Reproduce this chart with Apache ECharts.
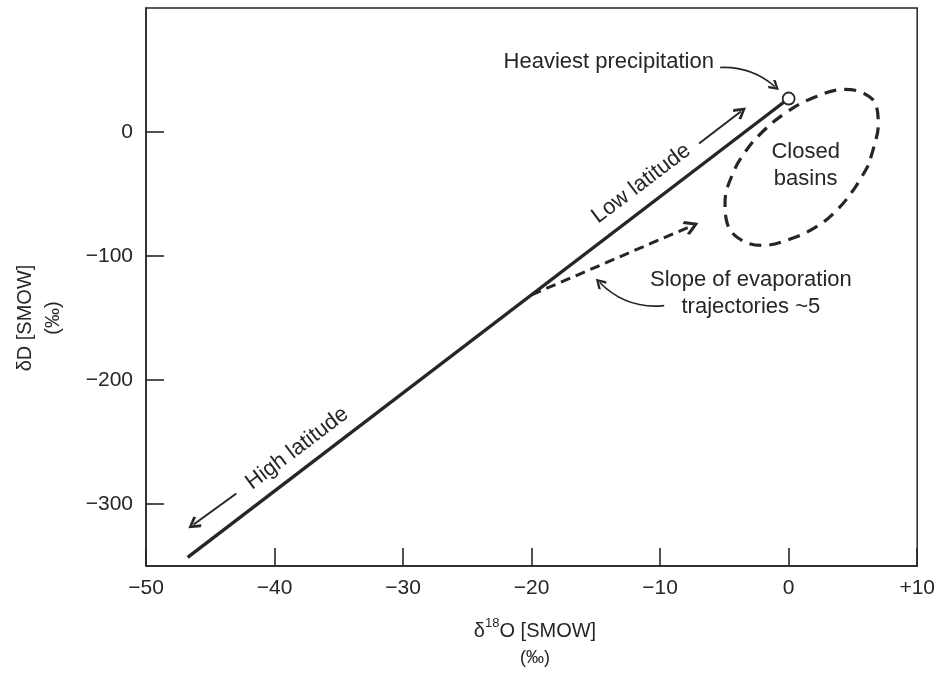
<!DOCTYPE html>
<html>
<head>
<meta charset="utf-8">
<script src="https://cdn.jsdelivr.net/npm/echarts@6/dist/echarts.min.js"></script>
<style>
html,body{margin:0;padding:0;background:#fff;}
#chart{width:938px;height:681px;}
</style>
</head>
<body>
<div id="chart"></div>
<script>
// ---- data ----
const xTicks = [-50, -40, -30, -20, -10, 0, 10];
const yTicks = [0, -100, -200, -300];

// meteoric water line (δ18O, δD)
const mwlO = [-46.76, 0];
const mwlD = [-343, 27];

// heaviest precipitation point
const heavyO = [0];
const heavyD = [27];

// closed basins envelope (outline points)
const basinO = [6.19, 5.11, 3.87, 2.32, 0.23, -2.09, -3.87, -4.80, -4.95, -4.41, -3.41, -2.09, -0.31, 1.78, 4.34, 5.88, 6.81, 6.97, 6.66, 6.19];
const basinD = [-27.0, -45.6, -61.7, -75.4, -85.9, -91.5, -85.9, -73.0, -56.9, -35.1, -16.5, -0.4, 14.9, 27.0, 34.3, 31.0, 21.4, 5.2, -10.9, -27.0];

// evaporation trajectory (start, end)
const evapO = [-20, -7.55];
const evapD = [-131.3, -75.7];

// direction arrows: [fromO, fromD, toO, toD]
const lowLatArrow = [-6.97, -9.3, -3.72, 16.5];
const highLatArrow = [-42.97, -291.5, -46.3, -316.5];
const heavyPointer = [-5.34, 52, -1.08, 36.7];
const slopePointer = [-9.68, -140, -14.7, -121.4];

// annotation texts and anchor positions (δ18O, δD)
const noteText = ['Heaviest precipitation', 'Closed\nbasins', 'Low latitude', 'High latitude', 'Slope of evaporation\ntrajectories ~5'];
const noteO = [-14.0, 1.32, -11.46, -38.24, -2.94];
const noteD = [56.9, -27.0, -41.5, -255.2, -130.2];
const noteAngle = [0, 0, 37, 37, 0];

// ---- chart ----
const FONT = "'Liberation Sans', Arial, sans-serif";
const INK = '#262626';
const chevron = 'path://M10,0 L20,12.5 L17,15 L10,5.8 L3,15 L0,12.5 Z';

function fmt(v) {
  if (v > 0) return '+' + v;
  if (v < 0) return '\u2212' + Math.abs(v);
  return '0';
}
function zip(a, b) { return a.map((v, i) => [v, b[i]]); }
function arrow(a, size, style) {
  return {
    coords: [[a[0], a[1]], [a[2], a[3]]],
    symbol: ['none', chevron], symbolSize: size,
    lineStyle: Object.assign({ color: INK, opacity: 1 }, style)
  };
}

const chart = echarts.init(document.getElementById('chart'), null, { renderer: 'canvas' });
chart.setOption({
  animation: false,
  backgroundColor: '#ffffff',
  grid: { left: 146, right: 17, top: 8, bottom: 115, show: true, borderColor: INK, borderWidth: 1.5 },
  xAxis: {
    type: 'value', min: -50, max: 10, interval: 10,
    axisLine: { show: true, onZero: false, lineStyle: { color: INK, width: 1.5 } },
    axisTick: { show: true, inside: true, length: 18, lineStyle: { color: INK, width: 1.6 } },
    axisLabel: { margin: 12, fontFamily: FONT, fontSize: 21, color: INK, formatter: fmt },
    splitLine: { show: false }
  },
  yAxis: {
    type: 'value', min: -350, max: 100,
    axisLine: { show: true, onZero: false, lineStyle: { color: INK, width: 1.5 } },
    axisTick: { show: true, inside: true, length: 18, customValues: yTicks, lineStyle: { color: INK, width: 1.6 } },
    axisLabel: { margin: 13, fontFamily: FONT, fontSize: 21, color: INK, customValues: yTicks, formatter: fmt },
    splitLine: { show: false }
  },
  graphic: [
    {
      type: 'text', x: 39, y: 318, rotation: Math.PI / 2,
      style: { text: 'δD [SMOW]\n(‰)', fontFamily: FONT, fontSize: 20, lineHeight: 28,
               fill: INK, align: 'center', verticalAlign: 'middle' }
    },
    {
      type: 'text', x: 535, y: 646,
      style: {
        text: '{n|δ}{s|18}{n|O [SMOW]}\n{p|(‰)}',
        fontFamily: FONT, fill: INK, align: 'center', verticalAlign: 'middle',
        rich: {
          n: { fontFamily: FONT, fontSize: 20, lineHeight: 24, fill: INK, verticalAlign: 'bottom' },
          s: { fontFamily: FONT, fontSize: 13, lineHeight: 24, fill: INK, verticalAlign: 'top' },
          p: { fontFamily: FONT, fontSize: 18, lineHeight: 34, fill: INK }
        }
      }
    }
  ],
  series: [
    {
      name: 'Meteoric water line', type: 'line', data: zip(mwlO, mwlD),
      symbol: 'none', lineStyle: { color: INK, width: 3.4 }, z: 3, silent: true
    },
    {
      name: 'Closed basins', type: 'line', data: zip(basinO, basinD),
      symbol: 'none', smooth: 0.4, silent: true,
      lineStyle: { color: INK, width: 3.2, type: [12, 8] }, z: 2
    },
    {
      name: 'Arrows', type: 'lines', coordinateSystem: 'cartesian2d', silent: true, z: 4,
      data: [
        arrow(lowLatArrow, [16, 13], { width: 2 }),
        arrow(highLatArrow, [16, 13], { width: 2 }),
        arrow(heavyPointer, [13, 11], { width: 1.6, curveness: 0.2 }),
        arrow(slopePointer, [13, 11], { width: 1.6, curveness: 0.24 }),
        arrow([evapO[0], evapD[0], evapO[1], evapD[1]], [19, 15], { width: 3, type: [10, 6] })
      ]
    },
    {
      name: 'Heaviest precipitation', type: 'scatter', data: zip(heavyO, heavyD),
      symbol: 'circle', symbolSize: 12, silent: true, z: 5,
      itemStyle: { color: '#ffffff', borderColor: INK, borderWidth: 1.8, opacity: 1 }
    },
    {
      name: 'Notes', type: 'scatter', silent: true, symbolSize: 0, z: 6,
      itemStyle: { opacity: 1 },
      data: noteText.map((t, i) => ({
        value: [noteO[i], noteD[i]],
        label: { show: true, formatter: t, rotate: noteAngle[i] }
      })),
      label: {
        show: true, position: 'inside', fontFamily: FONT, fontSize: 22, lineHeight: 27,
        color: INK, align: 'center', verticalAlign: 'middle'
      }
    }
  ]
});
</script>
</body>
</html>
